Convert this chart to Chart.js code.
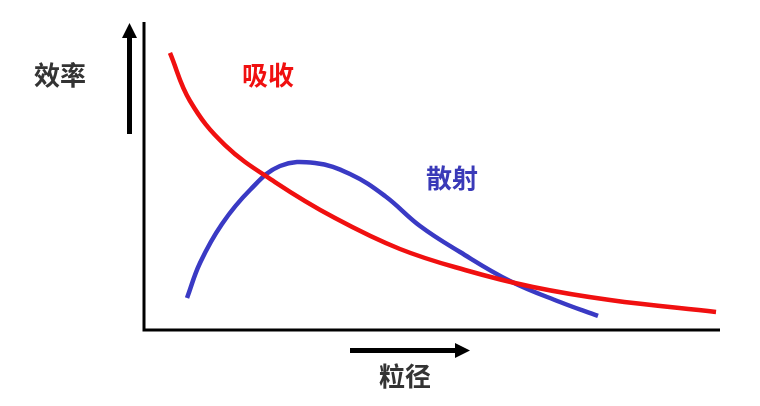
<!DOCTYPE html>
<html>
<head>
<meta charset="utf-8">
<script src="https://cdn.jsdelivr.net/npm/chart.js@4/dist/chart.umd.min.js"></script>
<style>
    html, body { margin: 0; padding: 0; background: #fff; }
    #wrap { width: 760px; height: 406px; }
</style>
</head>
<body>
<div id="wrap"><canvas id="effChart"></canvas></div>
<script>
// 粒径 (x, 0-100) と 効率 (y, 0-100) の読み取り値
const absorbX = [4.51, 7.99, 14.06, 22.74, 33.16, 44.44, 55.73, 67.53, 80.9, 99.31];
const absorbY = [89.94, 74.35, 60.06, 48.05, 36.36, 26.3, 19.48, 13.96, 9.74, 5.84];

const scatterX = [7.47, 9.72, 13.54, 18.4, 23.61, 29.69, 35.76, 41.84, 47.92, 54.86, 63.54, 72.22, 78.82];
const scatterY = [10.39, 21.75, 34.42, 45.45, 53.25, 54.22, 50.65, 43.51, 33.77, 25.32, 15.91, 9.09, 4.55];

const labelY = '效率';
const labelX = '粒径';
const nameAbsorb = '吸收';
const nameScatter = '散射';

function toPoints(xs, ys) {
    return xs.map((x, i) => ({ x: x, y: ys[i] }));
}

const font = 'bold 26px "Noto Sans CJK SC", "Noto Sans", sans-serif';

const axesPlugin = {
    id: 'axesPlugin',
    afterDraw(chart) {
        let ctx = chart.ctx;
        let a = chart.chartArea;
        ctx.save();

        // axes
        ctx.strokeStyle = '#000';
        ctx.lineWidth = 3;
        ctx.beginPath();
        ctx.moveTo(a.left, a.top);
        ctx.lineTo(a.left, a.bottom);
        ctx.lineTo(a.right, a.bottom);
        ctx.stroke();

        // up arrow
        ctx.fillStyle = '#000';
        ctx.fillRect(a.left - 17, a.top + 14, 5, 98);
        ctx.beginPath();
        ctx.moveTo(a.left - 14.5, a.top + 1);
        ctx.lineTo(a.left - 22, a.top + 16);
        ctx.lineTo(a.left - 7, a.top + 16);
        ctx.closePath();
        ctx.fill();

        // right arrow
        ctx.fillRect(350, a.bottom + 18, 106, 5);
        ctx.beginPath();
        ctx.moveTo(470, a.bottom + 20.5);
        ctx.lineTo(455, a.bottom + 13);
        ctx.lineTo(455, a.bottom + 28);
        ctx.closePath();
        ctx.fill();

        // labels
        ctx.font = font;
        ctx.textAlign = 'center';
        ctx.textBaseline = 'middle';
        ctx.fillStyle = '#333';
        ctx.fillText(labelY, 60, 75);
        ctx.fillText(labelX, 405, 376);
        ctx.fillStyle = '#f01010';
        ctx.fillText(nameAbsorb, 268, 75);
        ctx.fillStyle = '#3a3ab8';
        ctx.fillText(nameScatter, 452, 178);

        ctx.restore();
    }
};

let ctx = document.getElementById('effChart').getContext('2d');
new Chart(ctx, {
    type: 'scatter',
    data: {
        datasets: [{
            label: nameAbsorb,
            data: toPoints(absorbX, absorbY),
            showLine: true,
            borderColor: '#f01010',
            borderWidth: 4.5,
            pointRadius: 0,
            tension: 0.4
        }, {
            label: nameScatter,
            data: toPoints(scatterX, scatterY),
            showLine: true,
            borderColor: '#3a3ac4',
            borderWidth: 4.5,
            pointRadius: 0,
            tension: 0.4
        }]
    },
    options: {
        responsive: true,
        maintainAspectRatio: false,
        animation: false,
        layout: {
            padding: { left: 144, right: 40, top: 22, bottom: 76 }
        },
        plugins: {
            legend: { display: false },
            tooltip: { enabled: false }
        },
        scales: {
            x: { type: 'linear', min: 0, max: 100, display: false },
            y: { type: 'linear', min: 0, max: 100, display: false }
        }
    },
    plugins: [axesPlugin]
});
</script>
</body>
</html>
